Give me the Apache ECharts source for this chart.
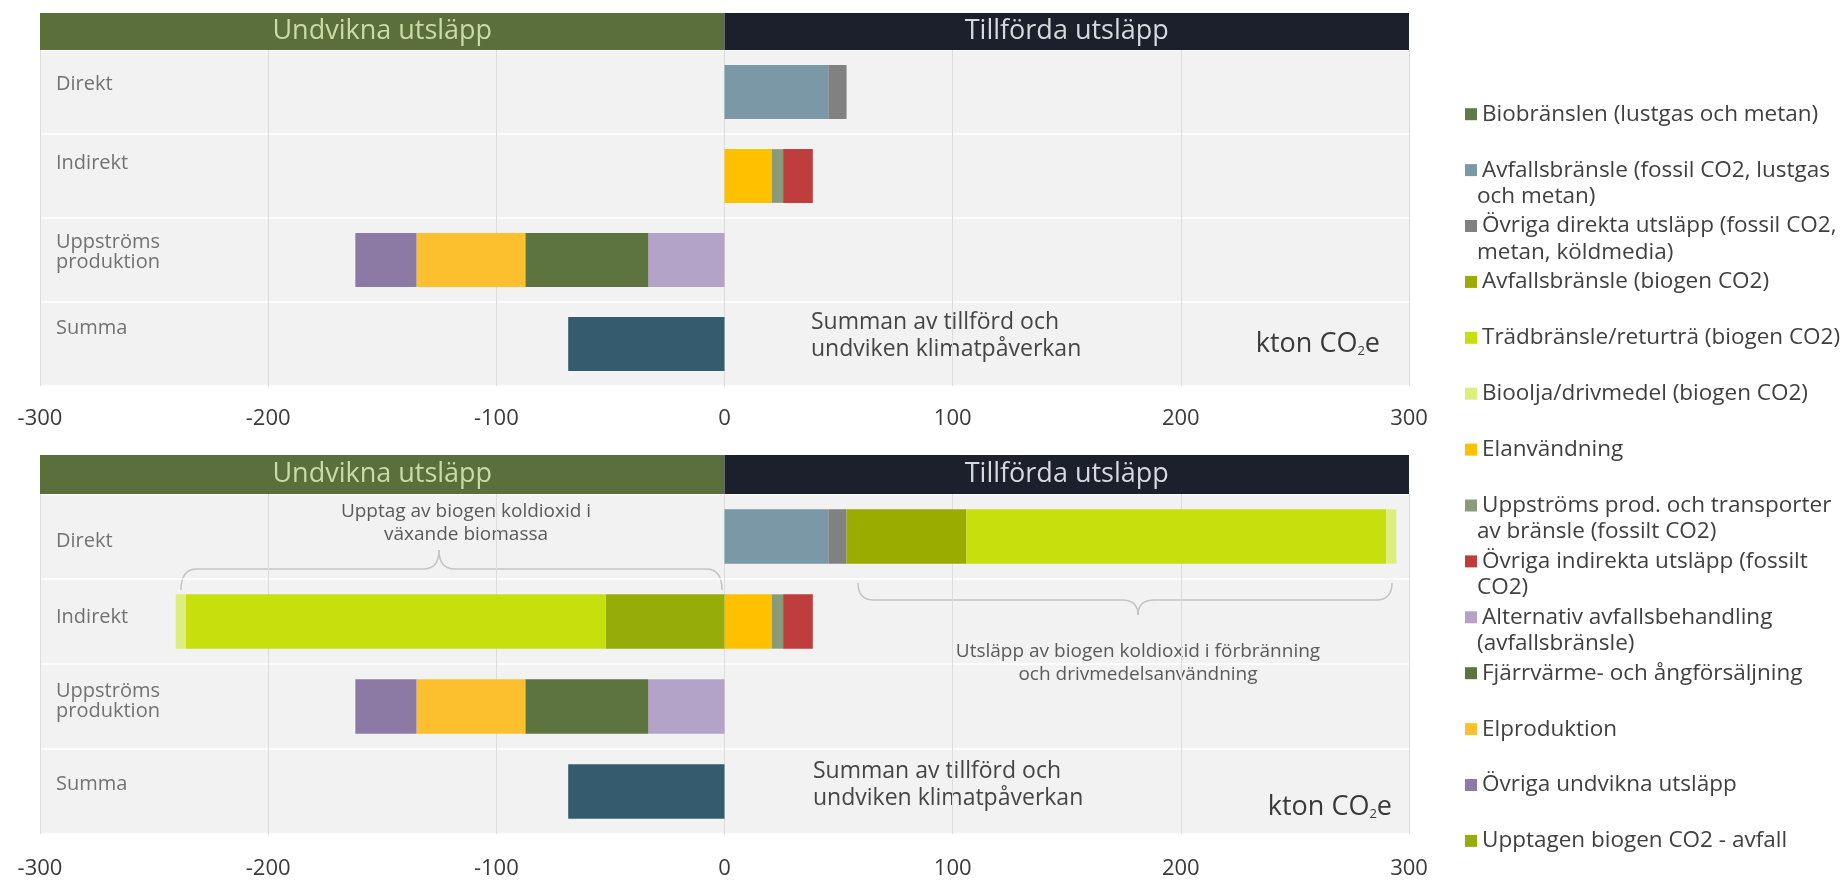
<!DOCTYPE html>
<html>
<head>
<meta charset="utf-8">
<script src="https://cdn.jsdelivr.net/npm/echarts@6/dist/echarts.min.js"></script>
<style>
html,body{margin:0;padding:0;background:#ffffff;}
#chart{width:1846px;height:884px;}
</style>
</head>
<body>
<div id="chart"></div>
<script>
// ---------------- DATA ----------------
const categories = ['Direkt', 'Indirekt', 'Uppströms\nproduktion', 'Summa'];
const axisMin = -300;
const axisMax = 300;
const axisStep = 100;
const headerLabels = ['Undvikna utsläpp', 'Tillförda utsläpp'];
const headerExtent = [-300, 300];

// Top chart (without biogenic CO2)
const topBiobranslen      = [0, 0, 0, 0];
const topAvfallFossil     = [45.5, 0, 0, 0];
const topOvrigaDirekta    = [8, 0, 0, 0];
const topElanvandning     = [0, 20.7, 0, 0];
const topUppstromsProd    = [0, 5, 0, 0];
const topOvrigaIndirekta  = [0, 13, 0, 0];
const topAlternativ       = [0, 0, -33.4, 0];
const topFjarrvarme       = [0, 0, -53.9, 0];
const topElproduktion     = [0, 0, -47.7, 0];
const topOvrigaUndvikna   = [0, 0, -26.8, 0];
const topSumma            = [0, 0, 0, -68.5];

// Bottom chart (with biogenic CO2)
const botBiobranslen      = [0, 0, 0, 0];
const botAvfallFossil     = [45.5, 0, 0, 0];
const botOvrigaDirekta    = [8, 0, 0, 0];
const botAvfallBiogen     = [52.5, 0, 0, 0];
const botTradbransle      = [184, 0, 0, 0];
const botBioolja          = [4.5, 0, 0, 0];
const botElanvandning     = [0, 20.7, 0, 0];
const botUppstromsProd    = [0, 5, 0, 0];
const botOvrigaIndirekta  = [0, 13, 0, 0];
const botUpptagenAvfall   = [0, -52, 0, 0];
const botUpptagenTrad     = [0, -184, 0, 0];
const botUpptagenBioolja  = [0, -4.5, 0, 0];
const botAlternativ       = [0, 0, -33.4, 0];
const botFjarrvarme       = [0, 0, -53.9, 0];
const botElproduktion     = [0, 0, -47.7, 0];
const botOvrigaUndvikna   = [0, 0, -26.8, 0];
const botSumma            = [0, 0, 0, -68.5];

const legendNames = [
  'Biobränslen (lustgas och metan)',
  'Avfallsbränsle (fossil CO2, lustgas och metan)',
  'Övriga direkta utsläpp (fossil CO2, metan, köldmedia)',
  'Avfallsbränsle (biogen CO2)',
  'Trädbränsle/returträ (biogen CO2)',
  'Bioolja/drivmedel (biogen CO2)',
  'Elanvändning',
  'Uppströms prod. och transporter av bränsle (fossilt CO2)',
  'Övriga indirekta utsläpp (fossilt CO2)',
  'Alternativ avfallsbehandling (avfallsbränsle)',
  'Fjärrvärme- och ångförsäljning',
  'Elproduktion',
  'Övriga undvikna utsläpp',
  'Upptagen biogen CO2 - avfall'
];
// how each legend label wraps in the picture
const legendLines = {
  'Avfallsbränsle (fossil CO2, lustgas och metan)': ['Avfallsbränsle (fossil CO2, lustgas', 'och metan)'],
  'Övriga direkta utsläpp (fossil CO2, metan, köldmedia)': ['Övriga direkta utsläpp (fossil CO2,', 'metan, köldmedia)'],
  'Uppströms prod. och transporter av bränsle (fossilt CO2)': ['Uppströms prod. och transporter', 'av bränsle (fossilt CO2)'],
  'Övriga indirekta utsläpp (fossilt CO2)': ['Övriga indirekta utsläpp (fossilt', 'CO2)'],
  'Alternativ avfallsbehandling (avfallsbränsle)': ['Alternativ avfallsbehandling', '(avfallsbränsle)']
};

// ---------------- STYLES ----------------
const palette = {
  'Biobränslen (lustgas och metan)': '#607a47',
  'Avfallsbränsle (fossil CO2, lustgas och metan)': '#7b98a6',
  'Övriga direkta utsläpp (fossil CO2, metan, köldmedia)': '#818181',
  'Avfallsbränsle (biogen CO2)': '#9aac00',
  'Trädbränsle/returträ (biogen CO2)': '#c6e00e',
  'Bioolja/drivmedel (biogen CO2)': '#dcef7c',
  'Elanvändning': '#ffc000',
  'Uppströms prod. och transporter av bränsle (fossilt CO2)': '#8a9b7a',
  'Övriga indirekta utsläpp (fossilt CO2)': '#bf3d3d',
  'Alternativ avfallsbehandling (avfallsbränsle)': '#b4a3c9',
  'Fjärrvärme- och ångförsäljning': '#5d7340',
  'Elproduktion': '#fcc02e',
  'Övriga undvikna utsläpp': '#8c7aa5',
  'Upptagen biogen CO2 - avfall': '#96ac08',
  'Upptagen biogen CO2 - trädbränsle': '#c6e00e',
  'Upptagen biogen CO2 - bioolja': '#dcef7c',
  'Summa': '#345c6e'
};
const headerColors = ['#5b6f3c', '#1c1f2c'];
const headerTextColors = ['#cadba4', '#d6d9dd'];
const FONT = 'Open Sans';

const topSeriesData = [
  ['Biobränslen (lustgas och metan)', topBiobranslen],
  ['Avfallsbränsle (fossil CO2, lustgas och metan)', topAvfallFossil],
  ['Övriga direkta utsläpp (fossil CO2, metan, köldmedia)', topOvrigaDirekta],
  ['Elanvändning', topElanvandning],
  ['Uppströms prod. och transporter av bränsle (fossilt CO2)', topUppstromsProd],
  ['Övriga indirekta utsläpp (fossilt CO2)', topOvrigaIndirekta],
  ['Alternativ avfallsbehandling (avfallsbränsle)', topAlternativ],
  ['Fjärrvärme- och ångförsäljning', topFjarrvarme],
  ['Elproduktion', topElproduktion],
  ['Övriga undvikna utsläpp', topOvrigaUndvikna],
  ['Summa', topSumma]
];
const botSeriesData = [
  ['Biobränslen (lustgas och metan)', botBiobranslen],
  ['Avfallsbränsle (fossil CO2, lustgas och metan)', botAvfallFossil],
  ['Övriga direkta utsläpp (fossil CO2, metan, köldmedia)', botOvrigaDirekta],
  ['Avfallsbränsle (biogen CO2)', botAvfallBiogen],
  ['Trädbränsle/returträ (biogen CO2)', botTradbransle],
  ['Bioolja/drivmedel (biogen CO2)', botBioolja],
  ['Elanvändning', botElanvandning],
  ['Uppströms prod. och transporter av bränsle (fossilt CO2)', botUppstromsProd],
  ['Övriga indirekta utsläpp (fossilt CO2)', botOvrigaIndirekta],
  ['Upptagen biogen CO2 - avfall', botUpptagenAvfall],
  ['Upptagen biogen CO2 - trädbränsle', botUpptagenTrad],
  ['Upptagen biogen CO2 - bioolja', botUpptagenBioolja],
  ['Alternativ avfallsbehandling (avfallsbränsle)', botAlternativ],
  ['Fjärrvärme- och ångförsäljning', botFjarrvarme],
  ['Elproduktion', botElproduktion],
  ['Övriga undvikna utsläpp', botOvrigaUndvikna],
  ['Summa', botSumma]
];

// ---------------- LAYOUT ----------------
const GL = 40, GW = 1369;
const grids = [
  {left: GL, width: GW, top: 13, height: 37},
  {left: GL, width: GW, top: 50, height: 336, show: true, backgroundColor: '#f2f2f2', borderWidth: 0},
  {left: GL, width: GW, top: 455, height: 39},
  {left: GL, width: GW, top: 494, height: 340, show: true, backgroundColor: '#f2f2f2', borderWidth: 0}
];
// vertical nudge (px, upward) of each row label, as placed in the picture
const topLabelNudge = [8, 13, 8, 16];
const botLabelNudge = [-5, 4, 5, 7];

function headerXAxis(gi) {
  return {gridIndex: gi, type: 'value', min: axisMin, max: axisMax, show: false};
}
function plotXAxis(gi, margin) {
  return {
    gridIndex: gi, type: 'value', min: axisMin, max: axisMax, interval: axisStep,
    axisLine: {show: false}, axisTick: {show: false},
    splitLine: {show: true, lineStyle: {color: '#dcdcdc', width: 1}},
    axisLabel: {show: true, margin: margin, fontSize: 22, color: '#3a3a3a', fontFamily: FONT,
      showMinLabel: true, showMaxLabel: true}
  };
}
function headerYAxis(gi) {
  return {gridIndex: gi, type: 'category', data: ['h'], show: false};
}
function plotYAxis(gi, nudge) {
  const base = {fontSize: 20, color: '#727272', fontFamily: FONT};
  const rich = {n: Object.assign({}, base)};
  nudge.forEach((s, i) => {
    rich['b' + i] = Object.assign({}, base, {padding: s >= 0 ? [0, 0, 2 * s, 0] : [-2 * s, 0, 0, 0]});
  });
  return {
    gridIndex: gi, type: 'category', data: categories, inverse: true,
    axisLine: {show: false}, axisTick: {show: false},
    splitLine: {show: true, lineStyle: {color: '#ffffff', width: 1.5}},
    axisLabel: {
      inside: true, margin: 16, fontFamily: FONT,
      formatter: (value, index) => {
        const lines = value.split('\n');
        return lines.map((s, li) => '{' + (li === lines.length - 1 ? 'b' + index : 'n') + '|' + s + '}').join('\n');
      },
      rich: rich
    }
  };
}

function headerSeries(ai) {
  return headerLabels.map((lab, i) => ({
    type: 'bar', xAxisIndex: ai, yAxisIndex: ai, stack: 'hdr' + ai,
    barWidth: '100%', silent: true,
    data: [headerExtent[i]],
    itemStyle: {color: headerColors[i]},
    label: {show: true, position: 'inside', formatter: lab, color: headerTextColors[i],
      fontSize: 27, fontFamily: FONT}
  }));
}
function plotSeries(list, ai, stackName) {
  return list.map(([name, values]) => ({
    type: 'bar', name: name, xAxisIndex: ai, yAxisIndex: ai, stack: stackName,
    barWidth: '64%', data: values,
    itemStyle: {color: palette[name]},
    emphasis: {disabled: true}
  }));
}

// legend: one component per entry, stacked at a fixed pitch
const LEG_LEFT = 1460, LEG_ICON = 12, LEG_FONT = 22.5, LEG_LINE = 29;
const legendTop0 = 111.7, legendStep = 55.9;
const legendTextX = LEG_LEFT + LEG_ICON + 5;
const legends = legendNames.map((name, i) => ({
  orient: 'vertical', left: LEG_LEFT, top: legendTop0 + i * legendStep - 17,
  data: [{name: name, icon: 'rect'}],
  itemWidth: LEG_ICON, itemHeight: LEG_ICON, itemGap: 0, selectedMode: false,
  formatter: (n) => (legendLines[n] ? legendLines[n][0] : n),
  textStyle: {fontSize: LEG_FONT, color: '#404040', fontFamily: FONT, lineHeight: LEG_LINE}
}));
const legendContinuation = [];
legendNames.forEach((name, i) => {
  if (legendLines[name]) {
    legendContinuation.push({type: 'text', silent: true,
      style: {text: legendLines[name][1], x: legendTextX, y: legendTop0 + i * legendStep + LEG_LINE,
        align: 'left', verticalAlign: 'middle', fontSize: LEG_FONT, fontFamily: FONT, fill: '#404040'}});
  }
});

// curly brace built from lines and quadratic curves
const braceStyle = {stroke: '#c4c4c4', lineWidth: 1.5, fill: null};
function brace(x1, x2, xm, yLine, yEnd, yTip) {
  const r = 16;
  const curve = (ax, ay, cx, cy, bx, by) => ({type: 'bezierCurve', silent: true,
    shape: {x1: ax, y1: ay, cpx1: cx, cpy1: cy, x2: bx, y2: by}, style: braceStyle});
  const line = (ax, ay, bx, by) => ({type: 'line', silent: true,
    shape: {x1: ax, y1: ay, x2: bx, y2: by}, style: braceStyle});
  return [
    curve(x1, yEnd, x1, yLine, x1 + r, yLine),
    line(x1 + r, yLine, xm - r, yLine),
    curve(xm - r, yLine, xm, yLine, xm, yTip),
    curve(xm, yTip, xm, yLine, xm + r, yLine),
    line(xm + r, yLine, x2 - r, yLine),
    curve(x2 - r, yLine, x2, yLine, x2, yEnd)
  ];
}

const annColor = '#5a5a5a';
function kton(x, y) {
  return {type: 'text', silent: true,
    style: {text: 'kton CO{s|2}e', x: x, y: y, align: 'right', verticalAlign: 'middle',
      fontSize: 27, fontFamily: FONT, fill: '#3a3a3a',
      rich: {s: {fontSize: 13, fontFamily: FONT, fill: '#3a3a3a', verticalAlign: 'bottom', padding: [8, 0, 0, 0]}}}};
}
function summan(x, y) {
  return {type: 'text', silent: true,
    style: {text: 'Summan av tillförd och\nundviken klimatpåverkan', x: x, y: y,
      align: 'left', verticalAlign: 'top', lineHeight: 27, fontSize: 23, fontFamily: FONT, fill: '#454545'}};
}
const graphics = [].concat(
  brace(181, 722, 439, 569, 590, 550),
  brace(858, 1392, 1138, 600, 583, 615),
  [
    {type: 'text', silent: true,
     style: {text: 'Upptag av biogen koldioxid i\nväxande biomassa', x: 466, y: 500,
       align: 'center', verticalAlign: 'top', lineHeight: 23, fontSize: 19, fontFamily: FONT, fill: annColor}},
    {type: 'text', silent: true,
     style: {text: 'Utsläpp av biogen koldioxid i förbränning\noch drivmedelsanvändning', x: 1138, y: 640,
       align: 'center', verticalAlign: 'top', lineHeight: 23, fontSize: 19, fontFamily: FONT, fill: annColor}},
    summan(811, 309),
    summan(813, 758),
    kton(1380, 344),
    kton(1392, 807)
  ],
  legendContinuation
);

const option = {
  animation: false,
  backgroundColor: '#ffffff',
  textStyle: {fontFamily: FONT},
  grid: grids,
  xAxis: [headerXAxis(0), plotXAxis(1, 22), headerXAxis(2), plotXAxis(3, 24)],
  yAxis: [headerYAxis(0), plotYAxis(1, topLabelNudge), headerYAxis(2), plotYAxis(3, botLabelNudge)],
  legend: legends,
  series: [].concat(
    headerSeries(0),
    plotSeries(topSeriesData, 1, 'top'),
    headerSeries(2),
    plotSeries(botSeriesData, 3, 'bot')
  ),
  graphic: graphics
};

const chart = echarts.init(document.getElementById('chart'), null, {renderer: 'canvas'});
chart.setOption(option);
</script>
</body>
</html>
